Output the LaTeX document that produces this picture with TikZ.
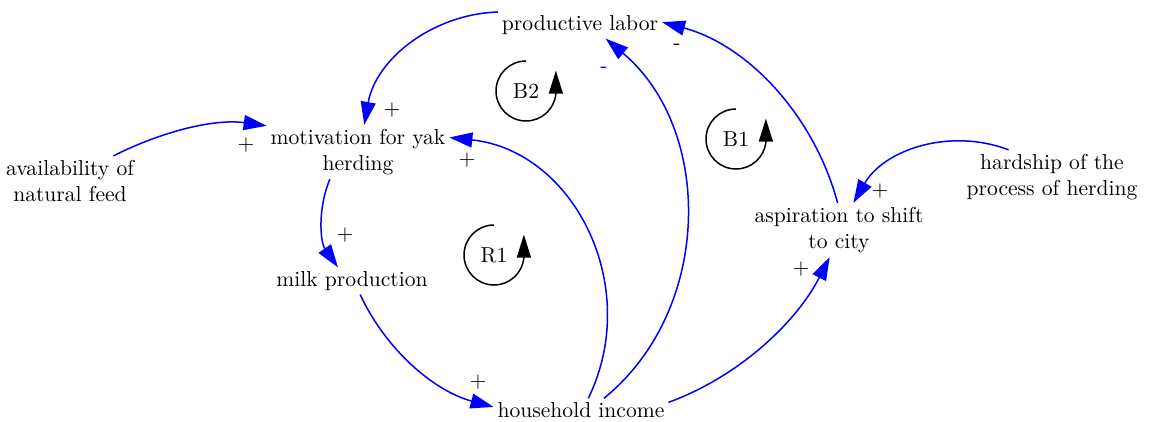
\documentclass[tikz,border=0pt]{standalone}
\usepackage{fontspec}
\usepackage{xcolor}
\usetikzlibrary{arrows.meta}
\definecolor{linkblue}{HTML}{0000FF}

\tikzset{
  var/.style={inner sep=2pt, outer sep=0pt, align=center,
    font=\fontsize{10.8}{13.3}\selectfont},
  link/.style={draw=linkblue, line width=0.75pt,
    -{Triangle[length=11.5pt, width=7.5pt, fill=linkblue]}},
  polarity/.style={inner sep=0pt, font=\fontsize{10.8}{13.3}\selectfont},
  loopsign/.style={line width=0.75pt, -{Triangle[length=11.5pt, width=7pt]}}
}

\begin{document}
\begin{tikzpicture}[x=0.5pt, y=0.5pt]
\useasboundingbox (0,0) rectangle (1150,-422);

% variables
\node[var] (labor) at (580,-25) {productive labor};
\node[var] (motiv) at (358,-152) {motivation for yak\\herding};
\node[var] (feed) at (70,-181) {availability of\\natural feed};
\node[var] (milk) at (352,-281) {milk production};
\node[var] (income) at (581,-410) {household income};
\node[var] (aspire) at (839,-230) {aspiration to shift\\to city};
\node[var] (hardship) at (1052,-177) {hardship of the\\process of herding};

% causal links
\draw[link] (labor.171) to[out=182, in=80, looseness=0.97] (motiv.77);
\draw[link] (feed.30) to[out=27, in=172, looseness=0.87] (motiv.164);
\draw[link] (income.58) to[out=64, in=-6, looseness=1.08] (motiv.9);
\draw[link] (motiv.224) to[out=247, in=125, looseness=0.9] (milk.136);
\draw[link] (milk.-59) to[out=-65, in=165, looseness=0.9] (income.178);
\draw[link] (income.27) to[out=39, in=-40] (labor.-28);
\draw[link] (income.5) to[out=20, in=-117, looseness=0.87] (aspire.251);
\draw[link] (aspire.93) to[out=105, in=-15, looseness=0.91] (labor.2);
\draw[link] (hardship.148) to[out=159, in=60, looseness=0.97] (aspire.62);

% polarities
\node[polarity] (pol1) at (392,-110) {+};
\node[polarity] (pol2) at (246,-145) {+};
\node[polarity] (pol3) at (467,-160) {+};
\node[polarity] (pol4) at (345,-235) {+};
\node[polarity] (pol5) at (478,-382) {+};
\node[polarity, text=linkblue] (pol6) at (604,-70) {-};
\node[polarity] (pol7) at (801,-269) {+};
\node[polarity] (pol8) at (677,-47) {-};
\node[polarity] (pol9) at (880,-191) {+};

% loop markers
\node[var] (loopB2) at (526,-91) {B2};
\draw[loopsign] (loopB2.center) ++(90:30) arc[start angle=90, end angle=355, radius=30] -- ++(0,23);
\node[var] (loopR1) at (494,-255) {R1};
\draw[loopsign] (loopR1.center) ++(90:30) arc[start angle=90, end angle=355, radius=30] -- ++(0,23);
\node[var] (loopB1) at (736,-139) {B1};
\draw[loopsign] (loopB1.center) ++(90:30) arc[start angle=90, end angle=355, radius=30] -- ++(0,23);
\end{tikzpicture}
\end{document}
